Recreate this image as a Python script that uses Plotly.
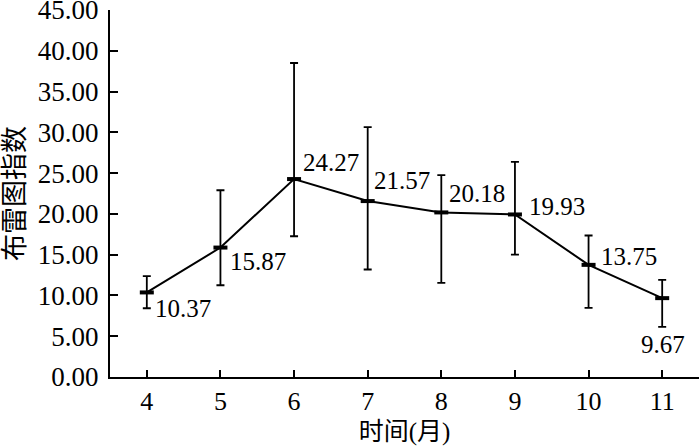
import plotly.graph_objects as go

months = [4, 5, 6, 7, 8, 9, 10, 11]
bi_mean = [10.37, 15.87, 24.27, 21.57, 20.18, 19.93, 13.75, 9.67]
bi_upper = [12.36, 22.90, 38.50, 30.64, 24.75, 26.38, 17.35, 11.90]
bi_lower = [8.43, 11.25, 17.26, 13.18, 11.54, 15.00, 8.47, 6.14]
label_text = ["10.37", "15.87", "24.27", "21.57", "20.18", "19.93", "13.75", "9.67"]
y_ticks = [0, 5, 10, 15, 20, 25, 30, 35, 40, 45]
y_ticktext = ["0.00", "5.00", "10.00", "15.00", "20.00", "25.00", "30.00", "35.00", "40.00", "45.00"]
# label offsets in px (dx, dy up)
label_dx = [36, 38, 37, 34, 36, 42, 40, 1]
label_dy = [-16, -14, 17, 21, 19, 8, 8, -46]

err_plus = [u - m for u, m in zip(bi_upper, bi_mean)]
err_minus = [m - l for m, l in zip(bi_mean, bi_lower)]

FONT = "Liberation Serif, Times New Roman, Noto Sans CJK SC, serif"

fig = go.Figure()
fig.add_trace(go.Scatter(
    x=months, y=bi_mean, mode="lines+markers",
    line=dict(color="black", width=2),
    marker=dict(symbol="line-ew", size=10, color="black",
                line=dict(color="black", width=4)),
    error_y=dict(type="data", symmetric=False, array=err_plus, arrayminus=err_minus,
                 color="black", thickness=1.8, width=4),
    showlegend=False,
))

for xv, yv, t, dx, dy in zip(months, bi_mean, label_text, label_dx, label_dy):
    fig.add_annotation(x=xv, y=yv, xref="x", yref="y", text=t, showarrow=False,
                       xanchor="center", yanchor="middle", xshift=dx, yshift=dy,
                       font=dict(family=FONT, size=25, color="black"))

fig.update_layout(
    width=700, height=446,
    margin=dict(l=110, r=1, t=10, b=69),
    paper_bgcolor="white", plot_bgcolor="white",
    font=dict(family=FONT, color="black"),
)
fig.update_xaxes(
    range=[3.5, 11.5], tickmode="array", tickvals=months,
    ticktext=[str(m) for m in months],
    showgrid=False, zeroline=False, showline=True, linecolor="black", linewidth=2,
    ticks="inside", ticklen=7, tickwidth=2, tickcolor="black",
    tickfont=dict(family=FONT, size=26), ticklabeloverflow="allow",
    title=dict(text="时间(月)", font=dict(family=FONT, size=25), standoff=7),
    automargin=False,
)
fig.update_yaxes(
    range=[0, 45], tickmode="array", tickvals=y_ticks, ticktext=y_ticktext,
    showgrid=False, zeroline=False, showline=True, linecolor="black", linewidth=2,
    ticks="inside", ticklen=8, tickwidth=2, tickcolor="black",
    tickfont=dict(family=FONT, size=27), ticklabeloverflow="allow", ticklabelstandoff=4,
    title=dict(text="布雷图指数", font=dict(family=FONT, size=27), standoff=6),
    automargin=False,
)

fig.write_html("out.html", config={"displayModeBar": False},
               post_script="document.body.style.margin='0';")
